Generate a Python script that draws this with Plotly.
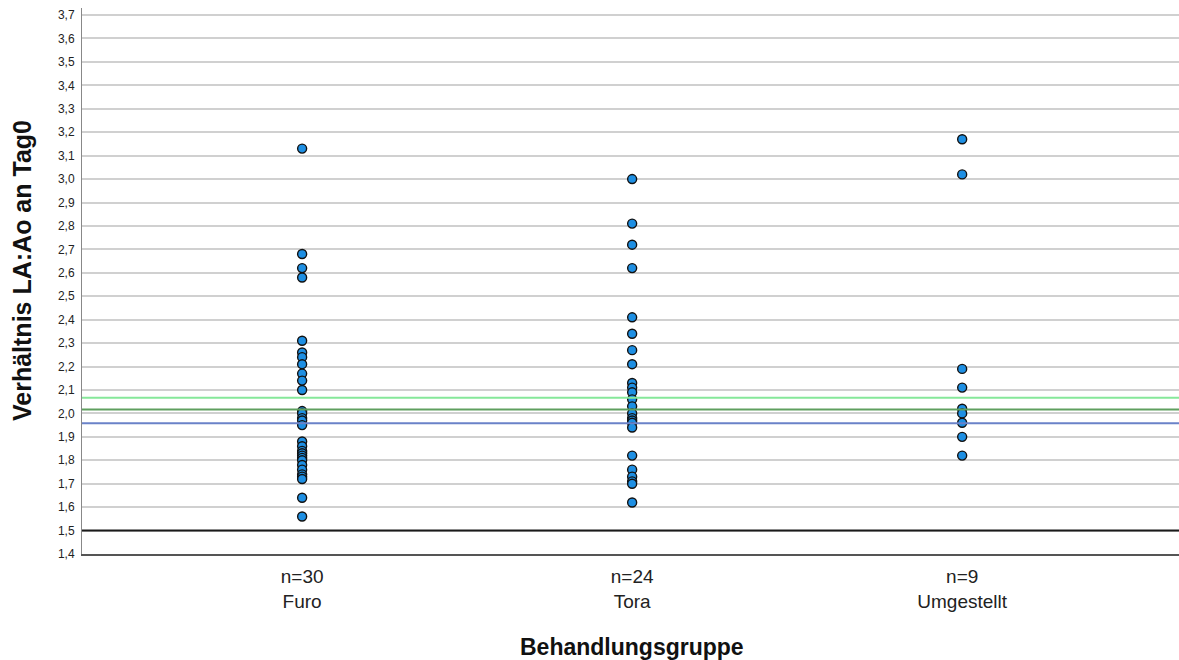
import plotly.graph_objects as go

categories = ["Furo", "Tora", "Umgestellt"]
tick_labels = ["n=30<br>Furo", "n=24<br>Tora", "n=9<br>Umgestellt"]

furo = [3.13, 2.68, 2.62, 2.58, 2.31, 2.26, 2.24, 2.21, 2.17, 2.14, 2.10,
        2.01, 2.00, 1.98, 1.97, 1.95, 1.88, 1.86, 1.84, 1.83, 1.82, 1.81,
        1.80, 1.78, 1.76, 1.74, 1.73, 1.72, 1.64, 1.56]
tora = [3.00, 2.81, 2.72, 2.62, 2.41, 2.34, 2.27, 2.21, 2.13, 2.11, 2.09,
        2.06, 2.03, 2.00, 1.98, 1.97, 1.96, 1.94, 1.82, 1.76, 1.73, 1.71,
        1.70, 1.62]
umgestellt = [3.17, 3.02, 2.19, 2.11, 2.02, 2.00, 1.96, 1.90, 1.82]

ref_values = [2.067, 2.017, 1.958, 1.5]
ref_colors = ["#86e89a", "#5f9f5f", "#6a82c8", "#1a1a1a"]
ref_widths = [2, 2, 2, 2]

series = [furo, tora, umgestellt]

fig = go.Figure()

for v, c, w in zip(ref_values, ref_colors, ref_widths):
    fig.add_hline(y=v, line=dict(color=c, width=w), layer="above")

for cat, vals in zip(categories, series):
    fig.add_trace(go.Scatter(
        x=[cat] * len(vals), y=vals, mode="markers",
        marker=dict(size=9, color="#1e8fe3", line=dict(color="#111111", width=1.4)),
        showlegend=False, hoverinfo="y", cliponaxis=False,
    ))

fig.update_layout(
    width=1179, height=660,
    margin=dict(l=82, r=0, t=8, b=106),
    paper_bgcolor="white", plot_bgcolor="white",
    separators=",.",
    font=dict(family="Liberation Sans, Arial, sans-serif", color="#111111"),
    xaxis=dict(
        type="category", categoryorder="array", categoryarray=categories,
        range=[-0.667, 2.657],
        tickmode="array", tickvals=categories, ticktext=tick_labels,
        tickfont=dict(size=19, color="#222222"),
        showgrid=False, zeroline=False,
        showline=True, linecolor="#555555", linewidth=2,
        ticks="", ticklabelstandoff=4, automargin=False,
    ),
    yaxis=dict(
        range=[1.4, 3.73],
        tick0=1.4, dtick=0.1, tickformat=".1f",
        tickfont=dict(size=12, color="#222222"),
        showgrid=True, gridcolor="#d0d0d0", gridwidth=2,
        zeroline=False,
        showline=True, linecolor="#888888", linewidth=1,
        ticks="", ticklabelstandoff=4, automargin=False,
    ),
    annotations=[
        dict(
            text="<b>Verhältnis LA:Ao an Tag0</b>", textangle=-90,
            xref="paper", yref="paper", x=0, y=0.5, xshift=-60, yshift=10,
            xanchor="center", yanchor="middle", showarrow=False,
            font=dict(size=25, color="#111111"),
        ),
        dict(
            text="<b>Behandlungsgruppe</b>",
            xref="paper", yref="paper", x=(632 - 82) / 1097, y=0, yshift=-93,
            xanchor="center", yanchor="middle", showarrow=False,
            font=dict(size=23, color="#111111"),
        ),
    ],
)

fig.write_html("out.html", config={"displayModeBar": False},
               post_script="document.body.style.margin='0';document.body.style.overflow='hidden';")
